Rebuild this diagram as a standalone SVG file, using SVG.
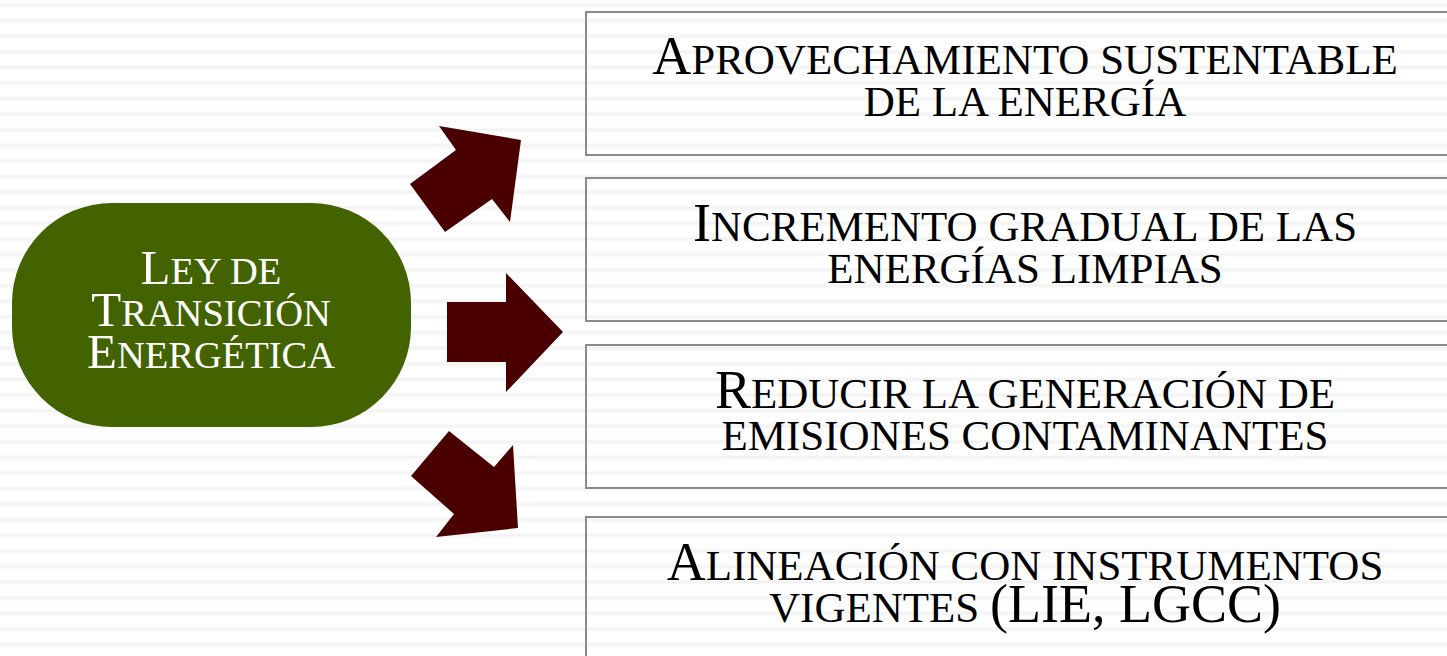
<svg xmlns="http://www.w3.org/2000/svg" width="1447" height="656" viewBox="0 0 1447 656">
<defs>
<pattern id="stripes" x="0" y="0" width="20" height="15.6" patternUnits="userSpaceOnUse">
<rect x="0" y="2.5" width="20" height="1" fill="#fafafa"/>
<rect x="0" y="3.5" width="20" height="3" fill="#f3f3f3"/>
<rect x="0" y="6.5" width="20" height="1" fill="#fafafa"/>
</pattern>
<style>
.box{fill:none;stroke:#8a8a8a;stroke-width:2}
.txt{font-family:"Liberation Serif","Times New Roman",serif;fill:#000;text-anchor:middle}
.big{font-size:54px}
.sm{font-size:43px}
.gtxt{font-family:"Liberation Serif","Times New Roman",serif;fill:#fff;text-anchor:middle}
.gbig{font-size:49px}
.gsm{font-size:38.5px}
.arrow{fill:#4a0000}
</style>
</defs>
<rect width="1447" height="656" fill="#fff"/>
<rect width="1447" height="656" fill="url(#stripes)"/>

<g id="ley">
<rect x="12" y="203" width="399" height="224" rx="100" ry="100" fill="#436300"/>
<text class="gtxt" x="211" y="284"><tspan class="gbig">L</tspan><tspan class="gsm">EY DE</tspan></text>
<text class="gtxt" x="211" y="326"><tspan class="gbig">T</tspan><tspan class="gsm">RANSICIÓN</tspan></text>
<text class="gtxt" x="211" y="368"><tspan class="gbig">E</tspan><tspan class="gsm">NERGÉTICA</tspan></text>
</g>

<g id="connectors">
<polygon class="arrow" points="456,150 439,126 521,140 510,222 492,199 445,232 410,184"/>
<polygon class="arrow" points="447,302 506,302 506,273 563,332 506,392 506,362 447,362"/>
<polygon class="arrow" points="449,431 494,467 513,445 518,528 436,537 454,514 411,476"/>
</g>

<g id="box1">
<rect class="box" x="586" y="12" width="900" height="143"/>
<text class="txt" x="1025" y="74"><tspan class="big">A</tspan><tspan class="sm">PROVECHAMIENTO SUSTENTABLE</tspan></text>
<text class="txt sm" x="1025" y="116">DE LA ENERGÍA</text>
</g>

<g id="box2">
<rect class="box" x="586" y="178" width="900" height="143"/>
<text class="txt" x="1025" y="241"><tspan class="big">I</tspan><tspan class="sm">NCREMENTO GRADUAL DE LAS</tspan></text>
<text class="txt sm" x="1025" y="283">ENERGÍAS LIMPIAS</text>
</g>

<g id="box3">
<rect class="box" x="586" y="345" width="900" height="143"/>
<text class="txt" x="1025" y="408"><tspan class="big">R</tspan><tspan class="sm">EDUCIR LA GENERACIÓN DE</tspan></text>
<text class="txt sm" x="1025" y="450">EMISIONES CONTAMINANTES</text>
</g>

<g id="box4">
<rect class="box" x="586" y="517" width="900" height="160"/>
<text class="txt" x="1025" y="580"><tspan class="big">A</tspan><tspan class="sm">LINEACIÓN CON INSTRUMENTOS</tspan></text>
<text class="txt" x="1025" y="622"><tspan class="sm">VIGENTES </tspan><tspan class="big">(LIE, LGCC)</tspan></text>
</g>
</svg>
